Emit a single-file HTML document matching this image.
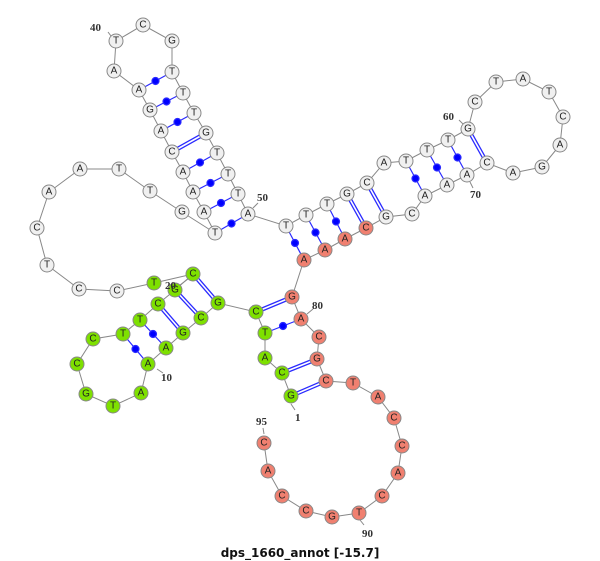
<!DOCTYPE html>
<html><head><meta charset="utf-8"><style>
html,body{margin:0;padding:0;background:#fff;}
svg{display:block}
.n text{font-family:"Liberation Sans",sans-serif;font-size:10px;text-anchor:middle;dominant-baseline:central;fill:#222}
.lb{font-family:"Liberation Serif",serif;font-weight:bold;font-size:11px;fill:#333}
</style></head><body>
<svg width="600" height="561" viewBox="0 0 600 561" xmlns="http://www.w3.org/2000/svg">
<polyline fill="none" stroke="#888" stroke-width="1" points="291,396 282,373 265,358 265,333 256,312 218,303 201,318 183,333 166,348 148,364 141,393 113,406 86,394 77,364 93,339 123,334 140,320 158,304 175,290 193,274 154,283 117,291 79,289 47,265 37,228 49,192 80,169 119,169 150,191 182,212 215,233 204,212 193,192 183,172 172,152 161,131 150,110 139,90 114,71 116,41 143,25 172,41 172,72 183,93 194,113 206,133 217,153 228,174 238,194 248,214 286,226 306,215 327,204 347,194 367,183 384,163 406,161 427,150 448,140 468,129 475,102 496,82 523,79 549,92 563,117 560,145 542,167 513,173 487,163 467,175 447,185 425,196 412,214 386,217 366,228 345,239 325,250 304,260 292,297 301,319 319,337 317,359 326,381 353,383 378,397 394,418 402,446 398,473 382,496 359,513 332,517 306,511 282,496 268,471 264,443"/>
<g stroke="#888" stroke-width="1">
<line x1="291" y1="404" x2="295" y2="410"/><line x1="157" y1="369" x2="163" y2="373"/><line x1="180" y1="285" x2="188" y2="279"/><line x1="108" y1="32" x2="111" y2="36"/><line x1="253" y1="208" x2="258" y2="203"/><line x1="459" y1="120" x2="463" y2="124"/><line x1="470" y1="182" x2="473" y2="188"/><line x1="307" y1="314" x2="313" y2="309"/><line x1="360" y1="520" x2="364" y2="525"/><line x1="264" y1="434" x2="263" y2="428"/>
</g>
<g stroke="#2a2aff" stroke-width="1.2" fill="#0000ff">
<line x1="139" y1="90" x2="172" y2="72"/><circle cx="155.5" cy="81" r="3.5"/>
<line x1="150" y1="110" x2="183" y2="93"/><circle cx="166.5" cy="101.5" r="3.5"/>
<line x1="161" y1="131" x2="194" y2="113"/><circle cx="177.5" cy="122" r="3.5"/>
<line x1="183" y1="172" x2="217" y2="153"/><circle cx="200" cy="162.5" r="3.5"/>
<line x1="193" y1="192" x2="228" y2="174"/><circle cx="210.5" cy="183" r="3.5"/>
<line x1="204" y1="212" x2="238" y2="194"/><circle cx="221" cy="203" r="3.5"/>
<line x1="215" y1="233" x2="248" y2="214"/><circle cx="231.5" cy="223.5" r="3.5"/>
<line x1="286" y1="226" x2="304" y2="260"/><circle cx="295" cy="243" r="3.5"/>
<line x1="306" y1="215" x2="325" y2="250"/><circle cx="315.5" cy="232.5" r="3.5"/>
<line x1="327" y1="204" x2="345" y2="239"/><circle cx="336" cy="221.5" r="3.5"/>
<line x1="406" y1="161" x2="425" y2="196"/><circle cx="415.5" cy="178.5" r="3.5"/>
<line x1="427" y1="150" x2="447" y2="185"/><circle cx="437" cy="167.5" r="3.5"/>
<line x1="448" y1="140" x2="467" y2="175"/><circle cx="457.5" cy="157.5" r="3.5"/>
<line x1="265" y1="333" x2="301" y2="319"/><circle cx="283" cy="326" r="3.5"/>
<line x1="140" y1="320" x2="166" y2="348"/><circle cx="153" cy="334" r="3.5"/>
<line x1="123" y1="334" x2="148" y2="364"/><circle cx="135.5" cy="349" r="3.5"/>
</g>
<g fill="none">
<g stroke="#2a2aff" stroke-width="4.2">
<line x1="172" y1="152" x2="206" y2="133"/><line x1="347" y1="194" x2="366" y2="228"/><line x1="367" y1="183" x2="386" y2="217"/><line x1="468" y1="129" x2="487" y2="163"/><line x1="256" y1="312" x2="292" y2="297"/><line x1="282" y1="373" x2="317" y2="359"/><line x1="291" y1="396" x2="326" y2="381"/><line x1="193" y1="274" x2="218" y2="303"/><line x1="175" y1="290" x2="201" y2="318"/><line x1="158" y1="304" x2="183" y2="333"/>
</g>
<g stroke="#fff" stroke-width="1.6">
<line x1="172" y1="152" x2="206" y2="133"/><line x1="347" y1="194" x2="366" y2="228"/><line x1="367" y1="183" x2="386" y2="217"/><line x1="468" y1="129" x2="487" y2="163"/><line x1="256" y1="312" x2="292" y2="297"/><line x1="282" y1="373" x2="317" y2="359"/><line x1="291" y1="396" x2="326" y2="381"/><line x1="193" y1="274" x2="218" y2="303"/><line x1="175" y1="290" x2="201" y2="318"/><line x1="158" y1="304" x2="183" y2="333"/>
</g></g>
<g class="n" stroke="#888" stroke-width="1">
<g fill="#7ee000">
<circle cx="291" cy="396" r="7"/><circle cx="282" cy="373" r="7"/><circle cx="265" cy="358" r="7"/><circle cx="265" cy="333" r="7"/><circle cx="256" cy="312" r="7"/><circle cx="218" cy="303" r="7"/><circle cx="201" cy="318" r="7"/><circle cx="183" cy="333" r="7"/><circle cx="166" cy="348" r="7"/><circle cx="148" cy="364" r="7"/><circle cx="141" cy="393" r="7"/><circle cx="113" cy="406" r="7"/><circle cx="86" cy="394" r="7"/><circle cx="77" cy="364" r="7"/><circle cx="93" cy="339" r="7"/><circle cx="123" cy="334" r="7"/><circle cx="140" cy="320" r="7"/><circle cx="158" cy="304" r="7"/><circle cx="175" cy="290" r="7"/><circle cx="193" cy="274" r="7"/><circle cx="154" cy="283" r="7"/>
</g>
<g fill="#f0f0f0">
<circle cx="117" cy="291" r="7"/><circle cx="79" cy="289" r="7"/><circle cx="47" cy="265" r="7"/><circle cx="37" cy="228" r="7"/><circle cx="49" cy="192" r="7"/><circle cx="80" cy="169" r="7"/><circle cx="119" cy="169" r="7"/><circle cx="150" cy="191" r="7"/><circle cx="182" cy="212" r="7"/><circle cx="215" cy="233" r="7"/><circle cx="204" cy="212" r="7"/><circle cx="193" cy="192" r="7"/><circle cx="183" cy="172" r="7"/><circle cx="172" cy="152" r="7"/><circle cx="161" cy="131" r="7"/><circle cx="150" cy="110" r="7"/><circle cx="139" cy="90" r="7"/><circle cx="114" cy="71" r="7"/><circle cx="116" cy="41" r="7"/><circle cx="143" cy="25" r="7"/><circle cx="172" cy="41" r="7"/><circle cx="172" cy="72" r="7"/><circle cx="183" cy="93" r="7"/><circle cx="194" cy="113" r="7"/><circle cx="206" cy="133" r="7"/><circle cx="217" cy="153" r="7"/><circle cx="228" cy="174" r="7"/><circle cx="238" cy="194" r="7"/><circle cx="248" cy="214" r="7"/><circle cx="286" cy="226" r="7"/><circle cx="306" cy="215" r="7"/><circle cx="327" cy="204" r="7"/><circle cx="347" cy="194" r="7"/><circle cx="367" cy="183" r="7"/><circle cx="384" cy="163" r="7"/><circle cx="406" cy="161" r="7"/><circle cx="427" cy="150" r="7"/><circle cx="448" cy="140" r="7"/><circle cx="468" cy="129" r="7"/><circle cx="475" cy="102" r="7"/><circle cx="496" cy="82" r="7"/><circle cx="523" cy="79" r="7"/><circle cx="549" cy="92" r="7"/><circle cx="563" cy="117" r="7"/><circle cx="560" cy="145" r="7"/><circle cx="542" cy="167" r="7"/><circle cx="513" cy="173" r="7"/><circle cx="487" cy="163" r="7"/><circle cx="467" cy="175" r="7"/><circle cx="447" cy="185" r="7"/><circle cx="425" cy="196" r="7"/><circle cx="412" cy="214" r="7"/><circle cx="386" cy="217" r="7"/>
</g>
<g fill="#f08070">
<circle cx="366" cy="228" r="7"/><circle cx="345" cy="239" r="7"/><circle cx="325" cy="250" r="7"/><circle cx="304" cy="260" r="7"/><circle cx="292" cy="297" r="7"/><circle cx="301" cy="319" r="7"/><circle cx="319" cy="337" r="7"/><circle cx="317" cy="359" r="7"/><circle cx="326" cy="381" r="7"/><circle cx="353" cy="383" r="7"/><circle cx="378" cy="397" r="7"/><circle cx="394" cy="418" r="7"/><circle cx="402" cy="446" r="7"/><circle cx="398" cy="473" r="7"/><circle cx="382" cy="496" r="7"/><circle cx="359" cy="513" r="7"/><circle cx="332" cy="517" r="7"/><circle cx="306" cy="511" r="7"/><circle cx="282" cy="496" r="7"/><circle cx="268" cy="471" r="7"/><circle cx="264" cy="443" r="7"/>
</g>
<g stroke="none">
<text x="291" y="396">G</text><text x="282" y="373">C</text><text x="265" y="358">A</text><text x="265" y="333">T</text><text x="256" y="312">C</text><text x="218" y="303">G</text><text x="201" y="318">C</text><text x="183" y="333">G</text><text x="166" y="348">A</text><text x="148" y="364">A</text><text x="141" y="393">A</text><text x="113" y="406">T</text><text x="86" y="394">G</text><text x="77" y="364">C</text><text x="93" y="339">C</text><text x="123" y="334">T</text><text x="140" y="320">T</text><text x="158" y="304">C</text><text x="175" y="290">G</text><text x="193" y="274">C</text><text x="154" y="283">T</text>
<text x="117" y="291">C</text><text x="79" y="289">C</text><text x="47" y="265">T</text><text x="37" y="228">C</text><text x="49" y="192">A</text><text x="80" y="169">A</text><text x="119" y="169">T</text><text x="150" y="191">T</text><text x="182" y="212">G</text><text x="215" y="233">T</text><text x="204" y="212">A</text><text x="193" y="192">A</text><text x="183" y="172">A</text><text x="172" y="152">C</text><text x="161" y="131">A</text><text x="150" y="110">G</text><text x="139" y="90">A</text><text x="114" y="71">A</text><text x="116" y="41">T</text><text x="143" y="25">C</text><text x="172" y="41">G</text><text x="172" y="72">T</text><text x="183" y="93">T</text><text x="194" y="113">T</text><text x="206" y="133">G</text><text x="217" y="153">T</text><text x="228" y="174">T</text><text x="238" y="194">T</text><text x="248" y="214">A</text><text x="286" y="226">T</text><text x="306" y="215">T</text><text x="327" y="204">T</text><text x="347" y="194">G</text><text x="367" y="183">C</text><text x="384" y="163">A</text><text x="406" y="161">T</text><text x="427" y="150">T</text><text x="448" y="140">T</text><text x="468" y="129">G</text><text x="475" y="102">C</text><text x="496" y="82">T</text><text x="523" y="79">A</text><text x="549" y="92">T</text><text x="563" y="117">C</text><text x="560" y="145">A</text><text x="542" y="167">G</text><text x="513" y="173">A</text><text x="487" y="163">C</text><text x="467" y="175">A</text><text x="447" y="185">A</text><text x="425" y="196">A</text><text x="412" y="214">C</text><text x="386" y="217">G</text>
<text x="366" y="228">C</text><text x="345" y="239">A</text><text x="325" y="250">A</text><text x="304" y="260">A</text><text x="292" y="297">G</text><text x="301" y="319">A</text><text x="319" y="337">C</text><text x="317" y="359">G</text><text x="326" y="381">C</text><text x="353" y="383">T</text><text x="378" y="397">A</text><text x="394" y="418">C</text><text x="402" y="446">C</text><text x="398" y="473">A</text><text x="382" y="496">C</text><text x="359" y="513">T</text><text x="332" y="517">G</text><text x="306" y="511">C</text><text x="282" y="496">C</text><text x="268" y="471">A</text><text x="264" y="443">C</text>
</g></g>
<g class="lb">
<text x="295" y="421">1</text><text x="161" y="381">10</text><text x="165" y="289">20</text><text x="90" y="31">40</text><text x="257" y="201">50</text><text x="443" y="120">60</text><text x="470" y="198">70</text><text x="312" y="309">80</text><text x="362" y="537">90</text><text x="256" y="425">95</text>
</g>
<text x="300" y="557" text-anchor="middle" font-family="'DejaVu Sans','Liberation Sans',sans-serif" font-weight="bold" font-size="12" fill="#111">dps_1660_annot [-15.7]</text>
</svg>
</body></html>
